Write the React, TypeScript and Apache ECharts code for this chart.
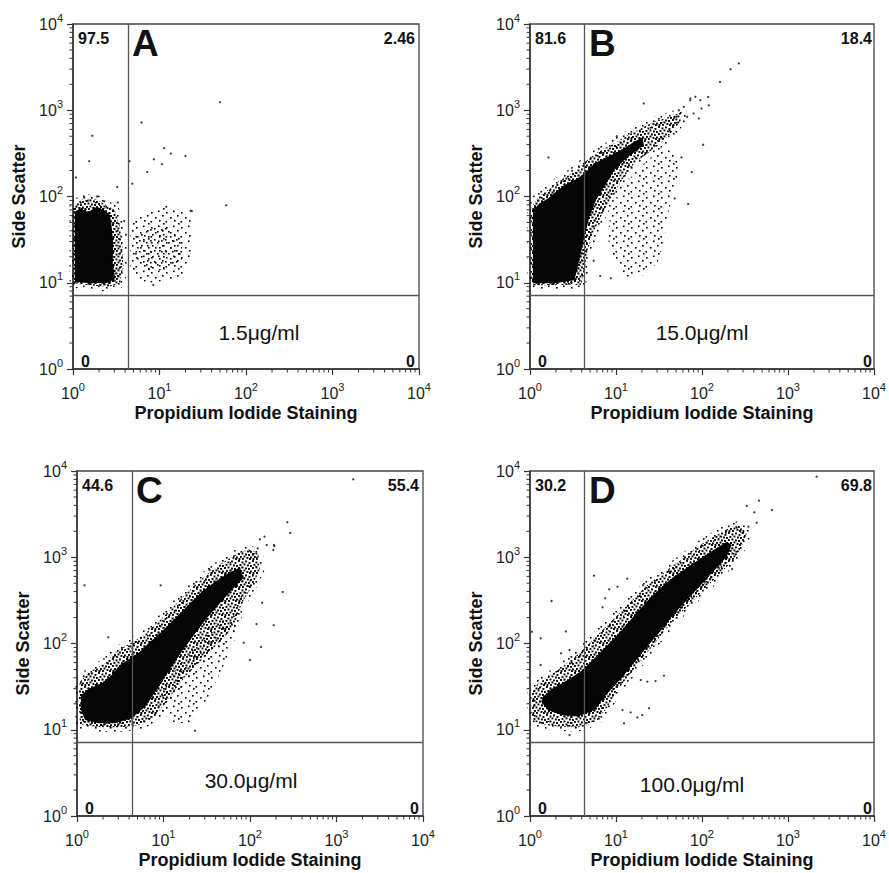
import React, { useEffect, useRef } from "react";
import * as echarts from "echarts";

const FONT = '"Liberation Sans", Arial, Helvetica, sans-serif';

// ---------- texts ----------
const letters = ["A", "B", "C", "D"];
const concentrations = ["1.5μg/ml", "15.0μg/ml", "30.0μg/ml", "100.0μg/ml"];
const upperLeftPct = ["97.5", "81.6", "44.6", "30.2"];
const upperRightPct = ["2.46", "18.4", "55.4", "69.8"];
const lowerLeftPct = ["0", "0", "0", "0"];
const lowerRightPct = ["0", "0", "0", "0"];
const xAxisTitle = "Propidium Iodide Staining";
const yAxisTitle = "Side Scatter";

// ---------- axes ----------
const axisMin = 1;
const axisMax = 10000;
const minorTickValues = [
  2, 3, 4, 5, 6, 7, 8, 9,
  20, 30, 40, 50, 60, 70, 80, 90,
  200, 300, 400, 500, 600, 700, 800, 900,
  2000, 3000, 4000, 5000, 6000, 7000, 8000, 9000,
];
const gateX = 4.3;
const gateY = 7.2;

// ---------- Panel A (1.5 ug/ml) ----------
const aDense = [[1.05,10.3],[1.05,66.5],[1.2,72.6],[1.5,66],[1.88,76],[2.34,69],[2.68,61],[2.8,44.6],[2.92,28.6],[2.88,16.8],[3.06,11.7],[2.68,10.0],[1.57,9.84]];
const aMid = [[1.03,9.85],[1.03,79.4],[1.32,95],[1.88,92.5],[2.45,79.4],[3.06,69.5],[3.49,44.6],[3.75,23.9],[3.82,15.3],[3.49,9.84],[2.45,8.84],[1.57,9.4]];
const aLight = [[4.56,44.6],[5.45,58],[7.76,69.5],[12.1,79.4],[15.8,72.8],[19.7,63.7],[23.6,50.9],[23.6,18.3],[18.8,12.3],[13.2,10.9],[8.48,10.0],[5.45,10.7],[4.56,15.3]];
const aLight2 = [[5.45,37.3],[8.48,46.6],[13.2,42.7],[18.1,31.3],[18.1,18.3],[12.1,14],[7.1,14],[5.21,20]];
const aDots = [[50,1240],[59,79],[6.2,720],[1.67,505],[1.54,257],[11.3,363],[13.5,315],[20,295],[8.6,270],[10.7,237],[7.2,192],[4.5,257],[4.85,141],[3.25,129],[1.08,166],[8.48,9.4],[22.9,68.3],[23.6,67.7],[1.9,100],[2.3,88],[1.35,97],[3.3,85],[3.9,52],[4.1,36]];

// ---------- Panel B (15.0 ug/ml) ----------
const bDense = [[1.08,9.84],[1.08,69.5],[1.29,83],[1.61,95],[2.11,119],[2.75,142],[3.59,162],[4.48,193],[5.6,242],[7.3,276],[9.5,316],[12.4,361],[16.2,430],[20.2,484],[21.2,394],[13.6,288],[9.5,202],[7.3,130],[5.85,91],[4.9,58],[4.29,34],[3.75,18.3],[3.29,10.7],[1.93,9.84]];
const bMid = [[1.05,9.4],[1.05,76],[1.24,99],[1.61,119],[2.11,148],[3.0,185],[3.92,231],[5.12,288],[6.68,345],[9.5,412],[13.6,514],[19.4,615],[27.6,734],[36,803],[47,877],[58.7,959],[56,734],[43,538],[33,412],[23.1,316],[16.2,242],[12.4,169],[9.5,109],[7.3,69.5],[5.6,40.8],[4.68,23.9],[4.29,14],[3.92,9.4]];
const bLight = [[7.98,34],[8.71,69.5],[11.4,119],[16.2,185],[23.1,264],[33,345],[47,345],[56,242],[47,119],[39.4,58],[36,28.6],[30.2,16.8],[19.4,11.7],[12.4,11.7],[9.1,20]];
const bDots = [[268,3490],[215,2990],[162,2130],[120,1140],[118,1420],[21,1200],[103,398],[69,82],[76,192],[48,95],[57.7,284],[1.64,284],[3.08,199],[10.2,501],[6.56,12],[8.71,11.3],[5.5,18],[83.7,1430],[95.6,1310],[73,1310],[98.6,1050],[80,918],[91.6,803],[73.3,1370],[61.4,1095],[53.8,1000],[67.1,839]];

// ---------- Panel C (30.0 ug/ml) ----------
const cDense = [[1.11,25.3],[1.41,30.2],[1.93,34.5],[2.52,43.1],[3.14,56.3],[4.1,67.3],[5.35,80.4],[6.98,105],[9.5,137],[13.6,196],[19.4,279],[27.6,399],[39.4,521],[56.1,652],[76.6,764],[83.7,570],[61.4,417],[43,279],[31.6,196],[23.1,131],[16.2,80.4],[11.4,47.1],[8.34,28.9],[6.11,18.5],[4.29,13.6],[2.75,11.9],[1.77,11.9],[1.24,13],[1.11,16.9]];
const cMid = [[1.05,28.9],[1.08,36],[1.41,47],[2.11,59],[3.0,84],[4.1,100],[5.6,120],[7.98,164],[11.4,234],[16.2,334],[23.1,477],[33,652],[47.1,851],[67.1,1062],[95.6,1236],[125,1112],[130,711],[105,456],[80.2,292],[67.1,171],[51.4,120],[36.1,84],[25.3,59],[17.7,41.2],[13.6,28.9],[10.4,20.2],[7.98,14.2],[5.6,11.4],[3.29,10.7],[1.93,10.7],[1.08,11.4]];
const cLight = [[9.5,28.9],[13.6,49.3],[19.4,77],[27.6,120],[39.4,171],[61.4,205],[73.3,143],[56.1,70.3],[43,41.2],[33,24.2],[25.3,15.5],[19.4,11.9],[13.6,11.9],[9.95,15.5]];
const cDots = [[1563,8020],[270,2540],[292,1910],[189,1387],[239,395],[188,163],[134,91],[100,64.5],[138,297],[119,168],[84.5,102],[23.1,9.75],[34.2,711],[9.27,473],[1.22,473],[2.3,118],[186,1213],[130,1615],[147,1733],[156,1387],[191,1350],[123,1270],[108,1062]];

// ---------- Panel D (100.0 ug/ml) ----------
const dDense = [[1.41,24.2],[1.84,30.3],[2.75,37.7],[4.1,49.3],[5.6,67.3],[7.98,96],[11.4,140],[16.2,210],[23.1,310],[33,440],[47.1,600],[67.1,760],[95.7,970],[136,1213],[194,1514],[222,1387],[194,1014],[136,690],[95.7,470],[67.1,320],[47.1,220],[33,140],[23.1,92],[16.2,60],[11.4,39],[7.98,26.5],[5.6,16.9],[3.59,14.2],[2.3,14.8],[1.61,16.9],[1.35,21.1]];
const dMid = [[1.05,26.5],[1.24,34.5],[1.77,43.1],[2.52,56.3],[3.92,80.4],[5.6,115],[7.98,164],[11.4,234],[16.2,334],[23.1,477],[33,622],[47.1,813],[67.1,1062],[95.7,1387],[136,1730],[194,2110],[277,2366],[331,1897],[290,1325],[232,929],[178,711],[125,499],[87.5,349],[61.4,245],[43,171],[30.2,110],[21.2,70.3],[14.8,45.1],[10.4,28.9],[7.98,18.5],[6.11,13],[3.92,10.8],[2.3,10.8],[1.35,11.4],[1.05,13]];
const dLight = [[3.0,70],[4.68,91.8],[6.4,126],[9.1,179],[13.3,272],[19.4,365],[27.6,521],[39.4,680],[56.1,865],[80.2,1130],[67.1,1000],[47.1,700],[33,530],[23.1,400],[16.2,280],[11.4,190],[7.98,135],[5.6,95],[3.92,66]];
const dDots = [[2150,8590],[460,4530],[650,3530],[224,731],[5.54,611],[1.78,311],[2.61,138],[13.5,564],[331,3930],[406,3320],[432,2515],[347,2260],[20.6,473],[10.4,456],[8.34,425],[7.5,334],[6.98,263],[1.33,115],[1.05,137],[1.33,56.3],[2.3,77],[2.88,84],[24.2,17.7],[17.7,13.9],[20.2,14.8],[14.8,15.9],[11.9,16.9],[23.1,36.1],[28.8,36.7],[36.1,42.4],[19.4,37.7],[2.88,8.69],[12.4,11.9]];

const panelData = [
  { dense: aDense, mid: aMid, light: [aLight], light2: [aLight2], dots: aDots },
  { dense: bDense, mid: bMid, light: [bLight], light2: [], dots: bDots },
  { dense: cDense, mid: cMid, light: [cLight], light2: [], dots: cDots },
  { dense: dDense, mid: dMid, light: [dLight], light2: [], dots: dDots },
];

// ---------- layout (pixels) ----------
const panelGrids = [
  { left: 73, top: 24, width: 346, height: 345 },
  { left: 530, top: 24, width: 346, height: 345 },
  { left: 77, top: 471, width: 346, height: 345 },
  { left: 530, top: 471, width: 346, height: 345 },
];
const concPos = [[259, 332], [702, 332], [251, 780], [692, 784]];

// stipple tiles (style only)
const midTile = {
  size: 14, dot: 1.9,
  dots: [[0,0],[3.5,1.5],[7,0.5],[10.5,2],[1.5,4],[5.5,3.5],[9,4.5],[12,5],[0,7],[3.5,6.5],[7,7.5],[10,8],[2,10],[5.5,9.5],[8.5,11],[12,10.5],[0.5,12.1],[4,12],[11,12.1]],
};
const lightTile = { size: 15, dot: 1.6, dots: [[1,2],[8,0.5],[12,5],[5,7],[0.5,11],[9,10],[13,13]] };
const light2Tile = { size: 11, dot: 1.6, dots: [[3,0],[9,3],[5,5],[0,8],[7,9]] };

function makePattern(tile: any) {
  const c = document.createElement("canvas");
  c.width = tile.size;
  c.height = tile.size;
  const ctx = c.getContext("2d")!;
  ctx.fillStyle = "#000";
  tile.dots.forEach((d: number[]) => ctx.fillRect(d[0], d[1], tile.dot, tile.dot));
  return { image: c.toDataURL(), repeat: "repeat", imageWidth: tile.size, imageHeight: tile.size };
}

function polygonSeries(i: number, pts: number[][], style: any, z: number) {
  return {
    type: "custom",
    coordinateSystem: "cartesian2d",
    xAxisIndex: i,
    yAxisIndex: i,
    z,
    silent: true,
    data: pts,
    renderItem: (params: any, api: any) => {
      if (params.dataIndex !== 0) return null;
      const points = pts.map((p) => api.coord(p));
      return { type: "polygon", shape: { points }, style };
    },
  };
}

const powLabel = (v: number) => `{b|10}{s|${Math.round(Math.log10(v))}}`;
const labelRich = {
  b: { fontSize: 16, fontFamily: FONT, color: "#222" },
  s: { fontSize: 11, fontFamily: FONT, color: "#222", padding: [0, 0, 13, 0] },
};

function buildOption() {
  const midFill = makePattern(midTile);
  const lightFill = makePattern(lightTile);
  const light2Fill = makePattern(light2Tile);

  const grid = panelGrids.map((g) => ({ ...g, show: true, borderColor: "#444", borderWidth: 1.3 }));
  const axisCommon = {
    type: "log",
    logBase: 10,
    min: axisMin,
    max: axisMax,
    splitNumber: 4,
    nameLocation: "middle",
    nameTextStyle: { fontFamily: FONT, fontWeight: "bold", fontSize: 18, color: "#111" },
    axisLine: { show: true, onZero: false, lineStyle: { color: "#333", width: 1.5 } },
    axisTick: { show: true, inside: false, length: 6, lineStyle: { color: "#333", width: 1.2 } },
    axisLabel: { margin: 12, fontSize: 16, formatter: powLabel, rich: labelRich },
    splitLine: { show: false },
  };
  const xAxis = panelGrids.map((_, i) => ({ ...axisCommon, gridIndex: i, name: xAxisTitle, nameGap: 35 }));
  const yAxis = panelGrids.map((_, i) => ({
    ...axisCommon,
    gridIndex: i,
    name: yAxisTitle,
    nameGap: 45,
    axisLabel: { ...axisCommon.axisLabel, margin: 10 },
  }));

  const series: any[] = [];
  panelData.forEach((p, i) => {
    // sparse halo around the population: stroke of the mid outline with light stipple
    series.push(polygonSeries(i, p.mid, { fill: null, stroke: lightFill, lineWidth: 9, lineJoin: "round" }, 1));
    p.light.forEach((poly) => series.push(polygonSeries(i, poly, { fill: lightFill, stroke: null }, 1)));
    p.light2.forEach((poly) => series.push(polygonSeries(i, poly, { fill: light2Fill, stroke: null }, 1)));
    series.push(polygonSeries(i, p.mid, { fill: midFill, stroke: null }, 2));
    series.push(polygonSeries(i, p.dense, { fill: "#050505", stroke: midFill, lineWidth: 4, lineJoin: "round" }, 3));
    series.push({
      type: "scatter",
      xAxisIndex: i,
      yAxisIndex: i,
      z: 4,
      silent: true,
      symbol: "circle",
      symbolSize: 2.3,
      itemStyle: { color: "#111" },
      data: p.dots,
      markLine: {
        silent: true,
        symbol: "none",
        label: { show: false },
        lineStyle: { color: "#555", width: 1.3, type: "solid" },
        data: [{ xAxis: gateX }, { yAxis: gateY }],
      },
    });
    series.push({
      type: "custom",
      coordinateSystem: "cartesian2d",
      xAxisIndex: i,
      yAxisIndex: i,
      z: 6,
      clip: false,
      silent: true,
      data: minorTickValues.map((v) => [v, v]),
      renderItem: (params: any, api: any) => {
        const v = api.value(0);
        const px = api.coord([v, axisMin]);
        const py = api.coord([axisMin, v]);
        return {
          type: "group",
          children: [
            { type: "line", shape: { x1: px[0], y1: px[1], x2: px[0], y2: px[1] + 3.5 }, style: { stroke: "#333", lineWidth: 1 } },
            { type: "line", shape: { x1: py[0], y1: py[1], x2: py[0] - 3.5, y2: py[1] }, style: { stroke: "#333", lineWidth: 1 } },
          ],
        };
      },
    });
  });

  const graphic: any[] = [];
  panelGrids.forEach((g, i) => {
    const boldText = (text: string, x: number, y: number, align: string, size: number) => ({
      type: "text",
      x,
      y,
      z: 10,
      silent: true,
      style: { text, fontFamily: FONT, fontWeight: "bold", fontSize: size, fill: "#111", align, verticalAlign: "middle" },
    });
    graphic.push(boldText(upperLeftPct[i], g.left + 5, g.top + 14, "left", 16));
    graphic.push(boldText(upperRightPct[i], g.left + g.width - 4, g.top + 14, "right", 16));
    graphic.push(boldText(lowerLeftPct[i], g.left + 8, g.top + g.height - 8, "left", 16));
    graphic.push(boldText(lowerRightPct[i], g.left + g.width - 4, g.top + g.height - 8, "right", 16));
    graphic.push(boldText(letters[i], g.left + 59, g.top + 19, "left", 37));
    graphic.push({
      type: "text",
      x: concPos[i][0],
      y: concPos[i][1],
      z: 10,
      silent: true,
      style: { text: concentrations[i], fontFamily: FONT, fontSize: 21, fill: "#111", align: "center", verticalAlign: "middle" },
    });
  });

  return {
    animation: false,
    backgroundColor: "#fff",
    grid,
    xAxis,
    yAxis,
    series,
    graphic,
  };
}

export default function App() {
  const ref = useRef<HTMLDivElement>(null);
  useEffect(() => {
    if (!ref.current) return;
    const chart = echarts.init(ref.current, null, { renderer: "svg" });
    chart.setOption(buildOption() as any);
    return () => chart.dispose();
  }, []);
  return <div ref={ref} style={{ position: "absolute", left: 0, top: 0, width: 889, height: 873 }} />;
}
